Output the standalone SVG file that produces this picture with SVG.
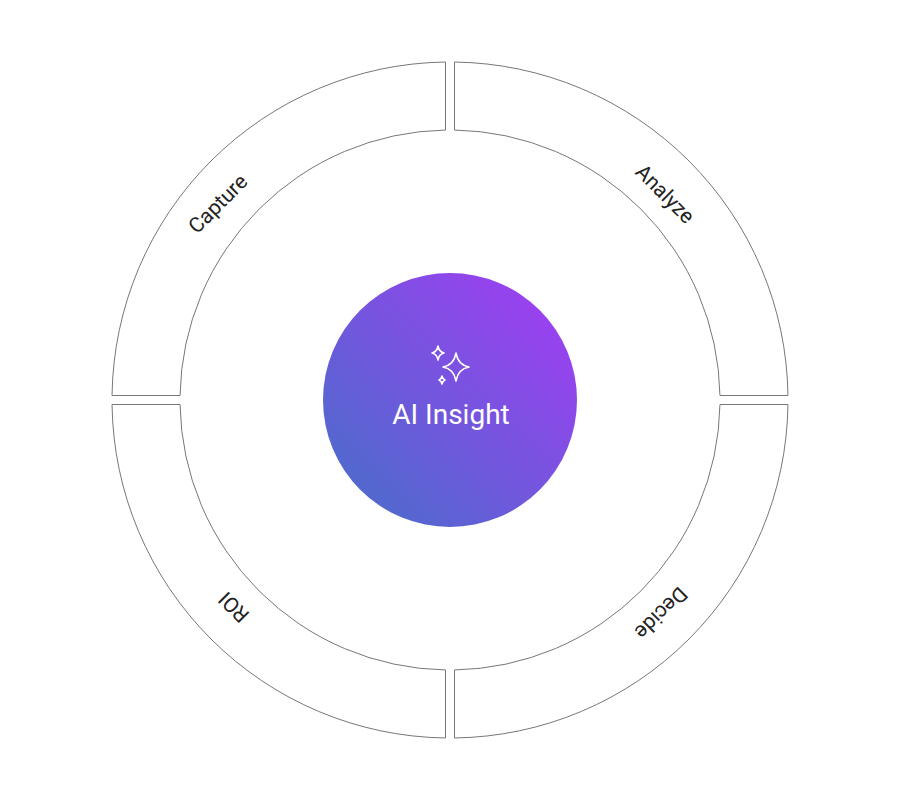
<svg xmlns="http://www.w3.org/2000/svg" width="900" height="800" viewBox="0 0 900 800">
<style>
.seg{fill:#fff;stroke:#777;stroke-width:1}
.lbl{font-family:Roboto,"Liberation Sans",sans-serif;font-size:21px;fill:#222;text-anchor:middle;dominant-baseline:middle}
.spark{fill:none;stroke:#fff;stroke-width:1.6;stroke-linejoin:round}
</style>
<defs>
<linearGradient id="g" x1="1" y1="0" x2="0" y2="1">
<stop offset="0" stop-color="#A63AF5"/>
<stop offset="1" stop-color="#4470C8"/>
</linearGradient>
</defs>
<rect width="900" height="800" fill="#fff"/>
<g id="capture"><path class="seg" d="M445.5,62.03 A338,338 0 0 0 112.03,395.5 L180.04,395.5 A270,270 0 0 1 445.5,130.04 Z"/><text class="lbl" transform="translate(219,205) rotate(-45)">Capture</text></g>
<g id="analyze"><path class="seg" d="M454.5,62.03 A338,338 0 0 1 787.97,395.5 L719.96,395.5 A270,270 0 0 0 454.5,130.04 Z"/><text class="lbl" transform="translate(664,195) rotate(45)">Analyze</text></g>
<g id="decide"><path class="seg" d="M787.97,404.5 A338,338 0 0 1 454.5,737.97 L454.5,669.96 A270,270 0 0 0 719.96,404.5 Z"/><text class="lbl" transform="translate(660,612) rotate(135)">Decide</text></g>
<g id="roi"><path class="seg" d="M445.5,737.97 A338,338 0 0 1 112.03,404.5 L180.04,404.5 A270,270 0 0 0 445.5,669.96 Z"/><text class="lbl" transform="translate(235,606) rotate(225)">ROI</text></g>
<g id="connectors"></g>
<g id="center">
<circle cx="450" cy="400" r="127" fill="url(#g)"/>
<path class="spark" d="M456,353 Q458,365 469,367 Q458,369 456,381 Q454,369 443,367 Q454,365 456,353 Z"/>
<path class="spark" d="M438,346 Q439,352 444,353 Q439,354 438,360 Q437,354 432,353 Q437,352 438,346 Z"/>
<path class="spark" d="M442,376 Q442.5,379 445,380 Q442.5,381 442,384 Q441.5,381 439,380 Q441.5,379 442,376 Z"/>
<text x="451" y="417" font-family="Roboto,'Liberation Sans',sans-serif" font-size="28" fill="#fff" text-anchor="middle" dominant-baseline="middle">AI Insight</text>
</g>
</svg>
